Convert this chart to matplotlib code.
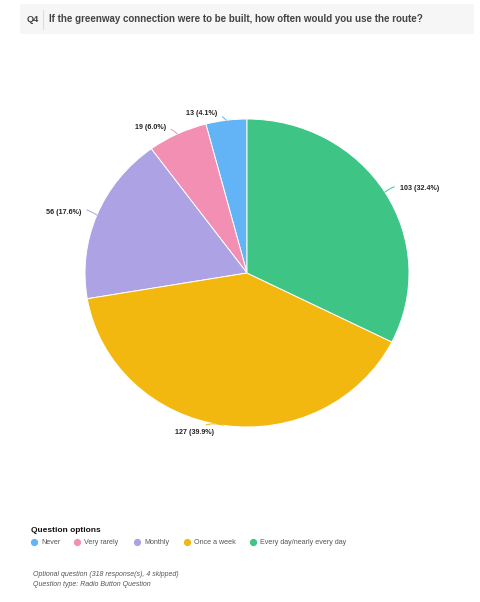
import numpy as np
import matplotlib.pyplot as plt
from matplotlib.patches import Rectangle

# Survey data
options = ["Never", "Very rarely", "Monthly", "Once a week", "Every day/nearly every day"]
counts = [13, 19, 56, 127, 103]
colors = ["#63b4f6", "#f38fb2", "#aca2e4", "#f2b80f", "#3ec484"]

title_num = "Q4"
title_text = "If the greenway connection were to be built, how often would you use the route?"
footer = ["Optional question (318 response(s), 4 skipped)",
          "Question type: Radio Button Question"]

W, H = 481, 602
fig = plt.figure(figsize=(W / 100, H / 100), dpi=100)
plt.rcParams['font.family'] = ['Liberation Sans', 'DejaVu Sans']


def fx(px):
    return px / W


def fy(py):
    return 1 - py / H


# Title bar
fig.patches.append(Rectangle((fx(20), fy(34)), fx(454), 30 / H, transform=fig.transFigure,
                             facecolor="#f6f6f6", edgecolor="none", zorder=0))
fig.add_artist(plt.Line2D([fx(43), fx(43)], [fy(10), fy(29)], transform=fig.transFigure,
                          color="#dddddd", linewidth=0.8))
fig.text(fx(27), fy(19.5), title_num, fontsize=6.6, fontweight="bold", color="#444444", va="center")
fig.text(fx(49), fy(19.5), title_text, fontsize=7.0, fontweight="bold", color="#444444", va="center")

# Pie axes (pie is slightly wider than tall in the reference)
cx, cy, rx, ry = 247, 273, 162, 154
half_w, half_h = 210, 200
ax = fig.add_axes([fx(cx - half_w), fy(cy + half_h), 2 * half_w / W, 2 * half_h / H])
wedges, _ = ax.pie(counts, colors=colors, startangle=90, counterclock=True,
                   wedgeprops=dict(edgecolor="white", linewidth=0.7))
ax.set_aspect("auto")
ax.set_xlim(-half_w / rx, half_w / rx)
ax.set_ylim(-half_h / ry, half_h / ry)
ax.axis("off")

total = sum(counts)
for w, c, col in zip(wedges, counts, colors):
    ang = np.deg2rad((w.theta1 + w.theta2) / 2)
    x, y = np.cos(ang), np.sin(ang)
    side = 1 if x >= 0 else -1
    dx = side * (8 + 8 * abs(x))
    dy = 7 * y
    ax.annotate(f"{c} ({c / total * 100:.1f}%)", xy=(x, y), xytext=(dx, dy),
                textcoords="offset pixels", ha="left" if side > 0 else "right", va="center",
                fontsize=5.1, fontweight="bold", color="#222222",
                arrowprops=dict(arrowstyle="-", color=col, linewidth=0.7,
                                connectionstyle=f"arc3,rad={0.3 * side}",
                                shrinkA=2, shrinkB=0))

# Legend
fig.text(fx(31), fy(530), "Question options", fontsize=6.0, fontweight="bold", color="#111111", va="center")
dot_x = [34, 77, 137, 187, 253]
for px, name, col in zip(dot_x, options, colors):
    fig.add_artist(plt.Line2D([fx(px)], [fy(542)], transform=fig.transFigure, marker="o",
                              markersize=4.2, color=col, linestyle="none"))
    fig.text(fx(px + 7), fy(542), name, fontsize=5.1, color="#555555", va="center")

# Footer
for i, line in enumerate(footer):
    fig.text(fx(33), fy(575 + 10 * i), line, fontsize=5, style="italic", color="#555555", va="center")

fig.savefig("out.png", dpi=100, facecolor="white")
